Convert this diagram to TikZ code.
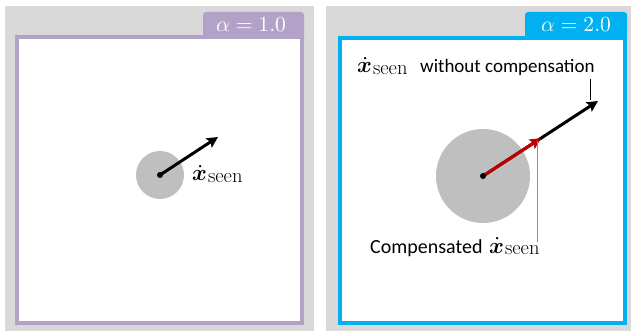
\RequirePackage{fix-cm}
\documentclass[tikz,border=0pt]{standalone}
\usepackage{amsmath}
\usepackage{bm}
\usepackage{graphicx}
\usepackage{fontspec}
\newfontfamily\calib{Carlito}
\usetikzlibrary{arrows.meta}
\definecolor{bgGray}{HTML}{D9D9D9}
\definecolor{discGray}{HTML}{BFBFBF}
\definecolor{purp}{HTML}{B3A2C7}
\definecolor{cyanA}{HTML}{00B0F0}
\definecolor{darkRed}{HTML}{C00000}
\definecolor{lightRed}{HTML}{E06C6C}
\newcommand{\xseen}{\scalebox{2.25}{$\dot{\bm{x}}$}\kern1pt\raisebox{-1.5pt}{\rmfamily\fontsize{20.5}{22}\selectfont seen}}
\tikzset{
  panelbg/.style={fill=bgGray, draw=none},
  frameA/.style={draw=#1, line width=4pt, fill=white},
  tabA/.style={fill=#1, draw=none, rounded corners=3pt},
  disc/.style={circle, fill=discGray, draw=none, inner sep=0pt},
  dotc/.style={circle, fill=black, inner sep=0pt, minimum size=6pt},
  velarrow/.style={line width=3pt, -{Stealth[length=11pt,width=11pt,inset=2pt]}, shorten <=0pt},
  tabtext/.style={text=white, inner sep=0pt},
  txtlbl/.style={anchor=base west, inner sep=0pt, font=\calib},
  mathlbl/.style={anchor=base west, inner sep=0pt},
}
\begin{document}
\begin{tikzpicture}[x=1pt,y=-1pt]
\useasboundingbox (0,0) rectangle (631,331);
% left panel
\fill[panelbg] (5,6) rectangle (314,331);
\path[tabA=purp] (203,12) rectangle (304,40);
\draw[frameA=purp] (17,37) rectangle (302,323);
\node[tabtext] (t1) at (251,25) {\scalebox{2.15}{$\alpha = 1.0$}};
\node[disc, minimum size=48pt] (c1) at (160,175) {};
\node[dotc] (d1) at (c1.center) {};
\coordinate (e1) at (218,137);
\draw[velarrow] (c1.center) -- (e1);
\node[mathlbl] (l1) at (192,181) {\xseen};
% right panel
\fill[panelbg] (326,6) rectangle (631,331);
\path[tabA=cyanA] (525,12) rectangle (627,40);
\draw[frameA=cyanA] (340,38) rectangle (625,323);
\node[tabtext] (t2) at (576,25) {\scalebox{2.15}{$\alpha = 2.0$}};
\node[disc, minimum size=94pt] (c2) at (483,176) {};
\coordinate (e2) at (598,101);
\coordinate (e3) at (541,138.2);
\draw[velarrow] (c2.center) -- (e2);
\draw[velarrow, darkRed] (c2.center) -- (e3);
\node[dotc] (d2) at (c2.center) {};
\node[mathlbl] (l2a) at (357,73) {\xseen};
\node[txtlbl, font=\calib\fontsize{19}{22}\selectfont] (l2b) at (420,73) {without compensation};
\coordinate (p1) at (590,79);
\coordinate (p2) at (590,100);
\draw[line width=1pt] (p1) -- (p2);
\node[txtlbl, font=\calib\fontsize{20}{22}\selectfont] (l3a) at (370,253) {Compensated};
\node[mathlbl] (l3b) at (489,253) {\xseen};
\coordinate (r1) at (537,141);
\coordinate (r2) at (537,242);
\draw[line width=1pt, lightRed] (r1) -- (r2);
\end{tikzpicture}
\end{document}
